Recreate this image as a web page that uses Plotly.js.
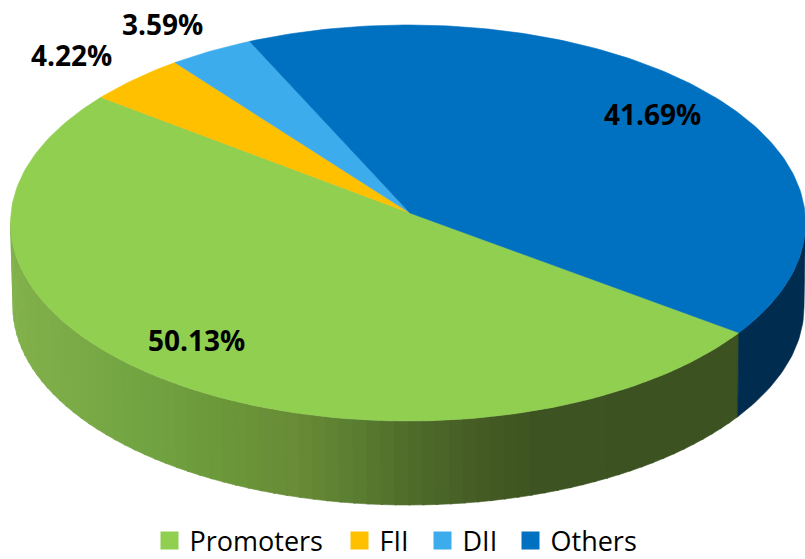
<!DOCTYPE html>
<html>
<head>
<meta charset="utf-8">
<script src="https://cdn.plot.ly/plotly-3.0.1.min.js"></script>
<style>html,body{margin:0;padding:0;background:#fff}#chart{width:805px;height:559px}</style>
</head>
<body>
<div id="chart"></div>
<script>
var categories = ['Promoters', 'FII', 'DII', 'Others'];
var values = [50.13, 4.22, 3.59, 41.69];
var colors = ['#90cf50', '#ffc000', '#3daced', '#0070c0'];
var othersWallColor = '#002c4f';
var wallStops = [[11,[130,177,75]],[130,[116,165,67]],[230,[107,151,57]],[300,[104,138,55]],[350,[91,127,49]],[410,[79,108,42]],[480,[69,92,36]],[535,[61,83,33]],[805,[60,81,32]]];

var W = 805, H = 559;
var topRim = {cx: 408, cy: 223, rx: 397.5, ry: 198};
var bottomRim = {cx: 408.5, cy: 307, rx: 395.5, ry: 198};
var apex = [410, 213];
var tilt = 0.05;          // perspective: near edge of the disc looks larger than the far edge
var startAngle = -36;
var total = values.reduce(function(a, b){ return a + b; }, 0);

// true pie angle (deg) -> parameter angle on the drawn ellipse
function rimAngle(deg){
  var r = deg * Math.PI / 180, s = Math.sin(r), c = Math.cos(r), d = 1 + tilt * s;
  return Math.atan2((s + tilt) / d, c * Math.sqrt(1 - tilt * tilt) / d) * 180 / Math.PI;
}
function pt(e, deg){
  var r = deg * Math.PI / 180;
  return [e.cx + e.rx * Math.cos(r), e.cy - e.ry * Math.sin(r)];
}
function wallColor(x){
  for (var i = 1; i < wallStops.length; i++){
    if (x <= wallStops[i][0]){
      var a = wallStops[i-1], b = wallStops[i], t = Math.max(0, (x - a[0]) / (b[0] - a[0]));
      return 'rgb(' + [0,1,2].map(function(k){ return Math.round(a[1][k] + t * (b[1][k] - a[1][k])); }).join(',') + ')';
    }
  }
  return 'rgb(60,81,32)';
}
function poly(xs, ys, color, name){
  return {type:'scatter', mode:'lines', x:xs, y:ys, fill:'toself', fillcolor:color,
          line:{color:color, width:0.6}, showlegend:false, hoverinfo:'text', text:name};
}
function wallPoly(a0, a1, color, name){
  var xs = [], ys = [], n = Math.max(1, Math.ceil(Math.abs(a1 - a0))), i, p;
  for (i = 0; i <= n; i++){ p = pt(topRim, a0 + (a1 - a0) * i / n); xs.push(p[0]); ys.push(p[1]); }
  for (i = n; i >= 0; i--){ p = pt(bottomRim, a0 + (a1 - a0) * i / n); xs.push(p[0]); ys.push(p[1]); }
  xs.push(xs[0]); ys.push(ys[0]);
  return poly(xs, ys, color, name);
}

var traces = [];
var seam = rimAngle(startAngle);
var step = 2;
for (var a = -180; a < seam; a += step){
  var a2 = Math.min(a + step + 0.3, seam);
  traces.push(wallPoly(a, a2, wallColor(pt(topRim, a + step / 2)[0]), categories[0]));
}
traces.push(wallPoly(seam, 0, othersWallColor, categories[3]));

var ang = startAngle;
values.forEach(function(v, i){
  var sweep = v / total * 360, xs = [apex[0]], ys = [apex[1]];
  var n = Math.ceil(sweep);
  for (var k = 0; k <= n; k++){
    var p = pt(topRim, rimAngle(ang - sweep * k / n));
    xs.push(p[0]); ys.push(p[1]);
  }
  xs.push(xs[0]); ys.push(ys[0]);
  traces.push(poly(xs, ys, colors[i], categories[i]));
  ang -= sweep;
});

var legendIds = ['legend', 'legend2', 'legend3', 'legend4'];
var legendSquareCentres = [174.5, 364.5, 447.5, 535.5];
categories.forEach(function(c, i){
  traces.push({type:'scatter', mode:'markers', x:[null], y:[null], name:c, hoverinfo:'skip', legend:legendIds[i],
    marker:{symbol:'square', size:16, color:colors[i], line:{color:colors[i], width:2}}});
});

var labelPos = [[196,340],[71,55],[162,24],[652,114]];
var annotations = values.map(function(v, i){
  return {x:labelPos[i][0], y:labelPos[i][1], xref:'x', yref:'y', text:v.toFixed(2) + '%', showarrow:false,
          xanchor:'center', yanchor:'middle', font:{family:'"Open Sans", sans-serif', size:28, color:'#000', weight:700}};
});

var layout = {
  width:W, height:H, margin:{l:0, r:0, t:0, b:0, autoexpand:false}, paper_bgcolor:'#fff', plot_bgcolor:'#fff',
  xaxis:{range:[0,W], visible:false, fixedrange:true},
  yaxis:{range:[H,0], visible:false, fixedrange:true},
  showlegend:true,
  annotations:annotations
};
legendIds.forEach(function(id, i){
  layout[id] = {x:(legendSquareCentres[i] - 25) / W, xanchor:'left', y:1 - 541 / H, yanchor:'middle',
    bgcolor:'rgba(0,0,0,0)', font:{family:'"Open Sans", sans-serif', size:27, color:'#000'}, itemsizing:'trace'};
});
Plotly.newPlot('chart', traces, layout, {displayModeBar:false, staticPlot:true});
</script>
</body>
</html>
